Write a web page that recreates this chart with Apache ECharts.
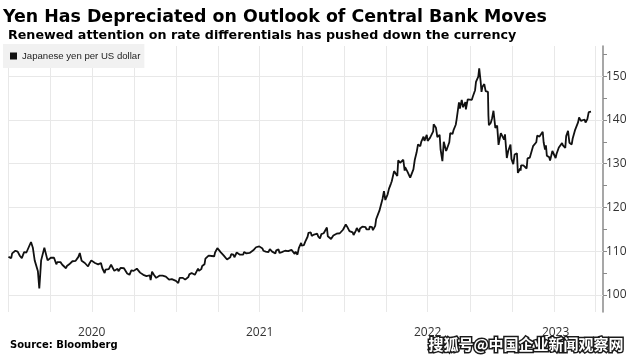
<!DOCTYPE html>
<html><head><meta charset="utf-8">
<script src="https://cdn.jsdelivr.net/npm/echarts@6/dist/echarts.min.js"></script>
<style>html,body{margin:0;padding:0;background:#fff}#c{width:641px;height:360px}</style>
</head><body><div id="c"></div>
<script>
const titleText = 'Yen Has Depreciated on Outlook of Central Bank Moves';
const subtitleText = 'Renewed attention on rate differentials has pushed down the currency';
const seriesName = 'Japanese yen per US dollar';
const sourceText = 'Source: Bloomberg';
const watermarkText = '搜狐号@中国企业新闻观察网';

const yTicks = [100, 105, 110, 115, 120, 125, 130, 135, 140, 145, 150, 155];
const yLabels = [100, 110, 120, 130, 140, 150];
const yearLabels = ['2020', '2021', '2022', '2023'];
const yearLabelDates = ['2020-07-01', '2021-07-01', '2022-07-01', '2023-04-05'];
const quarterDates = ['2020-01-01','2020-04-01','2020-07-01','2020-10-01','2021-01-01','2021-04-01','2021-07-01','2021-10-01','2022-01-01','2022-04-01','2022-07-01','2022-10-01','2023-01-01','2023-04-01','2023-07-01'];

const data2020 = [
['2020-01-02',108.7],['2020-01-08',108.4],['2020-01-10',109.5],['2020-01-17',110.1],['2020-01-22',109.9],['2020-01-27',108.9],['2020-01-31',108.4],
['2020-02-05',109.8],['2020-02-10',109.7],['2020-02-14',109.8],['2020-02-20',112.1],['2020-02-24',110.8],['2020-02-28',107.9],
['2020-03-03',107.5],['2020-03-06',105.4],['2020-03-09',101.5],['2020-03-11',104.6],['2020-03-13',107.9],['2020-03-17',107.6],['2020-03-20',110.8],['2020-03-24',111.2],['2020-03-27',107.9],['2020-03-31',107.5],
['2020-04-03',108.5],['2020-04-07',108.8],['2020-04-10',108.5],['2020-04-15',107.0],['2020-04-17',107.5],['2020-04-21',107.6],['2020-04-24',107.5],['2020-04-28',106.9],
['2020-05-01',106.9],['2020-05-06',106.1],['2020-05-08',106.6],['2020-05-13',107.0],['2020-05-15',107.1],['2020-05-20',107.7],['2020-05-22',107.6],['2020-05-27',107.8],['2020-05-29',107.8],
['2020-06-02',108.7],['2020-06-05',109.6],['2020-06-09',107.8],['2020-06-12',107.4],['2020-06-16',107.3],['2020-06-19',106.9],['2020-06-23',106.5],['2020-06-26',107.2],['2020-06-30',107.9],
['2020-07-03',107.5],['2020-07-08',107.3],['2020-07-10',106.9],['2020-07-15',107.0],['2020-07-17',107.0],['2020-07-21',107.3],['2020-07-24',106.1],['2020-07-29',105.0],['2020-07-31',105.8],
['2020-08-04',105.7],['2020-08-07',105.9],['2020-08-12',106.9],['2020-08-14',106.6],['2020-08-19',105.5],['2020-08-21',105.8],['2020-08-26',106.0],['2020-08-28',105.4],
['2020-09-02',106.2],['2020-09-04',106.2],['2020-09-09',106.1],['2020-09-11',106.1],['2020-09-16',104.9],['2020-09-18',104.6],['2020-09-21',104.6],['2020-09-25',105.6],['2020-09-30',105.5],
['2020-10-02',105.3],['2020-10-07',106.0],['2020-10-09',105.6],['2020-10-14',105.1],['2020-10-16',105.4],['2020-10-21',104.6],['2020-10-23',104.7],['2020-10-28',104.3],['2020-10-30',104.6],
['2020-11-04',104.5],['2020-11-06',103.4],['2020-11-09',105.3],['2020-11-11',105.4],['2020-11-13',104.6],['2020-11-18',103.9],['2020-11-20',103.9],['2020-11-25',104.4],['2020-11-27',104.1],
['2020-12-02',104.4],['2020-12-04',104.2],['2020-12-09',104.2],['2020-12-11',104.0],['2020-12-16',103.5],['2020-12-18',103.3],['2020-12-22',103.6],['2020-12-25',103.6],['2020-12-31',103.2]
];
const data2021 = [
['2021-01-05',102.7],['2021-01-08',103.9],['2021-01-12',104.2],['2021-01-15',103.9],['2021-01-20',103.5],['2021-01-22',103.8],['2021-01-27',104.1],['2021-01-29',104.7],
['2021-02-03',105.0],['2021-02-05',105.4],['2021-02-10',104.6],['2021-02-12',104.9],['2021-02-17',106.0],['2021-02-19',105.5],['2021-02-24',105.9],['2021-02-26',106.6],
['2021-03-03',107.0],['2021-03-05',108.3],['2021-03-09',108.7],['2021-03-12',109.0],['2021-03-16',109.1],['2021-03-19',108.9],['2021-03-24',108.8],['2021-03-26',109.7],['2021-03-31',110.7],
['2021-04-02',110.6],['2021-04-07',109.8],['2021-04-09',109.6],['2021-04-14',109.0],['2021-04-16',108.8],['2021-04-21',108.1],['2021-04-23',107.9],['2021-04-28',108.6],['2021-04-30',109.3],
['2021-05-05',109.2],['2021-05-07',108.6],['2021-05-12',109.7],['2021-05-14',109.4],['2021-05-19',109.2],['2021-05-21',108.9],['2021-05-26',109.2],['2021-05-28',109.8],
['2021-06-02',109.5],['2021-06-04',109.5],['2021-06-09',109.6],['2021-06-11',109.7],['2021-06-17',110.2],['2021-06-18',110.2],['2021-06-23',110.9],['2021-06-25',110.8],['2021-06-30',111.1],
['2021-07-02',111.1],['2021-07-07',110.6],['2021-07-09',110.1],['2021-07-14',109.9],['2021-07-16',110.1],['2021-07-20',109.8],['2021-07-23',110.5],['2021-07-28',109.9],['2021-07-30',109.7],
['2021-08-04',109.5],['2021-08-06',110.2],['2021-08-11',110.4],['2021-08-13',109.6],['2021-08-18',109.8],['2021-08-20',109.8],['2021-08-25',110.1],['2021-08-27',109.8],
['2021-09-01',110.0],['2021-09-03',109.7],['2021-09-08',110.3],['2021-09-10',109.9],['2021-09-15',109.4],['2021-09-17',109.9],['2021-09-21',109.2],['2021-09-24',110.7],['2021-09-29',111.9],['2021-09-30',111.3],
['2021-10-05',111.4],['2021-10-08',112.2],['2021-10-13',113.3],['2021-10-15',114.2],['2021-10-20',114.3],['2021-10-22',113.5],['2021-10-27',113.8],['2021-10-29',114.0],
['2021-11-03',114.0],['2021-11-05',113.4],['2021-11-09',112.9],['2021-11-12',113.9],['2021-11-17',114.1],['2021-11-19',114.0],['2021-11-24',115.4],['2021-11-26',113.4],['2021-11-30',113.2],
['2021-12-03',112.8],['2021-12-08',113.6],['2021-12-10',113.4],['2021-12-15',114.0],['2021-12-17',113.7],['2021-12-22',114.1],['2021-12-24',114.4],['2021-12-29',114.9],['2021-12-31',115.1]
];
const data2022 = [
['2022-01-04',116.1],['2022-01-07',115.6],['2022-01-12',114.6],['2022-01-14',114.2],['2022-01-19',114.3],['2022-01-21',113.7],['2022-01-26',114.7],['2022-01-28',115.3],
['2022-02-02',114.4],['2022-02-04',115.2],['2022-02-09',115.6],['2022-02-11',115.4],['2022-02-16',115.5],['2022-02-18',115.0],['2022-02-24',115.0],['2022-02-25',115.6],
['2022-03-02',115.5],['2022-03-04',114.8],['2022-03-09',115.8],['2022-03-11',117.3],['2022-03-16',118.7],['2022-03-18',119.2],['2022-03-23',121.2],['2022-03-25',122.0],['2022-03-28',123.7],['2022-03-31',121.7],
['2022-04-05',123.0],['2022-04-08',124.3],['2022-04-12',125.4],['2022-04-14',126.0],['2022-04-19',128.3],['2022-04-22',128.5],['2022-04-26',127.2],['2022-04-28',130.8],
['2022-05-02',130.2],['2022-05-06',130.6],['2022-05-09',130.9],['2022-05-12',128.4],['2022-05-13',129.2],['2022-05-18',128.2],['2022-05-20',127.9],['2022-05-24',126.8],['2022-05-27',127.1],['2022-05-31',128.7],
['2022-06-03',130.9],['2022-06-07',132.6],['2022-06-10',134.4],['2022-06-14',134.4],['2022-06-15',134.0],['2022-06-17',135.0],['2022-06-22',136.2],['2022-06-24',135.2],['2022-06-29',136.6],
['2022-07-01',135.2],['2022-07-06',135.9],['2022-07-08',136.1],['2022-07-13',137.4],['2022-07-14',139.0],['2022-07-19',138.2],['2022-07-22',136.1],['2022-07-27',136.6],['2022-07-29',133.3],
['2022-08-02',130.6],['2022-08-05',135.0],['2022-08-10',132.9],['2022-08-12',133.4],['2022-08-17',134.9],['2022-08-19',137.0],['2022-08-24',136.8],['2022-08-26',137.6],['2022-08-31',138.9],
['2022-09-02',140.2],['2022-09-07',144.0],['2022-09-09',142.6],['2022-09-13',144.6],['2022-09-16',142.9],['2022-09-21',144.1],['2022-09-22',142.4],['2022-09-26',144.7],['2022-09-30',144.7],
['2022-10-05',144.6],['2022-10-07',145.3],['2022-10-12',146.8],['2022-10-14',148.7],['2022-10-19',149.9],['2022-10-20',150.1],['2022-10-21',151.8],['2022-10-24',148.9],['2022-10-26',146.4],['2022-10-28',147.6],
['2022-11-01',148.2],['2022-11-04',146.6],['2022-11-09',146.4],['2022-11-10',141.0],['2022-11-11',138.8],['2022-11-15',139.3],['2022-11-18',140.4],['2022-11-21',142.1],['2022-11-25',138.2],['2022-11-29',138.7],
['2022-12-02',134.3],['2022-12-07',137.0],['2022-12-09',136.6],['2022-12-14',135.5],['2022-12-16',136.7],['2022-12-20',131.3],['2022-12-23',132.9],['2022-12-28',134.4],['2022-12-30',131.1]
];
const data2023 = [
['2023-01-03',129.9],['2023-01-06',132.1],['2023-01-11',132.4],['2023-01-13',127.9],['2023-01-16',128.2],['2023-01-17',128.2],['2023-01-18',128.9],['2023-01-19',128.4],['2023-01-20',129.6],['2023-01-25',129.6],['2023-01-27',129.9],
['2023-02-01',128.9],['2023-02-03',131.2],['2023-02-08',131.4],['2023-02-10',131.4],['2023-02-15',134.0],['2023-02-17',134.2],['2023-02-22',134.9],['2023-02-24',136.4],
['2023-03-01',136.2],['2023-03-03',135.8],['2023-03-08',137.3],['2023-03-10',134.9],['2023-03-13',133.2],['2023-03-15',134.2],['2023-03-17',131.8],['2023-03-22',131.5],['2023-03-24',130.7],['2023-03-29',132.9],['2023-03-31',132.8],
['2023-04-05',131.3],['2023-04-07',132.2],['2023-04-12',133.7],['2023-04-14',133.8],['2023-04-19',134.7],['2023-04-21',134.2],['2023-04-26',133.6],['2023-04-28',136.3],
['2023-05-02',137.5],['2023-05-05',134.8],['2023-05-10',134.4],['2023-05-12',135.7],['2023-05-17',137.6],['2023-05-19',137.9],['2023-05-24',139.5],['2023-05-26',140.6],['2023-05-30',139.8],
['2023-06-02',139.9],['2023-06-07',140.1],['2023-06-09',139.4],['2023-06-13',140.2],['2023-06-16',141.8],['2023-06-20',141.5],['2023-06-21',141.9]
];
const yenData = data2020.concat(data2021, data2022, data2023);

const chart = echarts.init(document.getElementById('c'), null, {renderer: 'canvas'});
const gridColor = '#e8e8e8';
const axisFont = "'Open Sans', 'Noto Sans', sans-serif";

const gridLines = quarterDates.map(d => ({xAxis: d})).concat(yLabels.map(v => ({yAxis: v})));
const yearMarks = yearLabelDates.map((d, i) => ({
  xAxis: d,
  lineStyle: {color: 'rgba(255,255,255,0)', width: 0},
  label: {show: true, position: 'start', distance: 15, formatter: yearLabels[i],
          fontFamily: axisFont, fontSize: 12, color: '#333'}
}));

chart.setOption({
  animation: false,
  backgroundColor: '#ffffff',
  title: [
    {text: titleText, left: 3, top: 9, padding: 0, textStyle: {fontFamily: "'DejaVu Sans', sans-serif", fontWeight: 'bold', fontSize: 17.4, color: '#000'}},
    {text: subtitleText, left: 8, top: 29, padding: 0, textStyle: {fontFamily: "'DejaVu Sans', sans-serif", fontWeight: 'bold', fontSize: 12.7, color: '#000'}},
    {text: sourceText, left: 10, top: 340, padding: 0, textStyle: {fontFamily: "'DejaVu Sans', sans-serif", fontWeight: 'bold', fontSize: 10, color: '#000'}}
  ],
  legend: {
    data: [seriesName], left: 3, top: 44, padding: [7, 4, 7, 7],
    backgroundColor: '#f1f1f1', icon: 'rect', itemWidth: 7, itemHeight: 7, itemGap: 4,
    textStyle: {fontFamily: "'Liberation Sans', Arial, sans-serif", fontSize: 9.6, color: '#222'}
  },
  grid: {left: 8, right: 38, top: 46, bottom: 48},
  xAxis: {
    type: 'time', min: '2020-01-01', max: '2023-07-17',
    axisLine: {show: false}, axisTick: {show: false}, splitLine: {show: false},
    axisLabel: {show: false}
  },
  yAxis: {
    type: 'value', position: 'right', min: 96.1, max: 156.9,
    axisLine: {show: true, lineStyle: {color: '#8a8a8a', width: 1.5}},
    axisTick: {show: true, inside: false, length: 4, customValues: yTicks, lineStyle: {color: '#8a8a8a'}},
    axisLabel: {customValues: yLabels, margin: 3, fontFamily: axisFont, fontSize: 12, color: '#333'},
    splitLine: {show: false}
  },
  series: [
    {
      name: 'grid', type: 'line', data: [], z: 1, silent: true,
      markLine: {
        z: 1, silent: true, symbol: 'none', animation: false,
        label: {show: false},
        lineStyle: {color: gridColor, width: 1, type: 'solid'},
        data: gridLines.concat(yearMarks)
      }
    },
    {
      name: seriesName, type: 'line', data: yenData, z: 3,
      showSymbol: false, symbol: 'none', smooth: false,
      lineStyle: {color: '#111', width: 1.8},
      itemStyle: {color: '#111'}
    }
  ],
  graphic: [
    {type: 'text', left: 427, top: 335, z: 100,
     style: {text: watermarkText, fill: '#ffffff', stroke: '#1a1a1a', lineWidth: 3, font: "bold 15px 'Noto Sans CJK SC'"}}
  ]
});
</script></body></html>
